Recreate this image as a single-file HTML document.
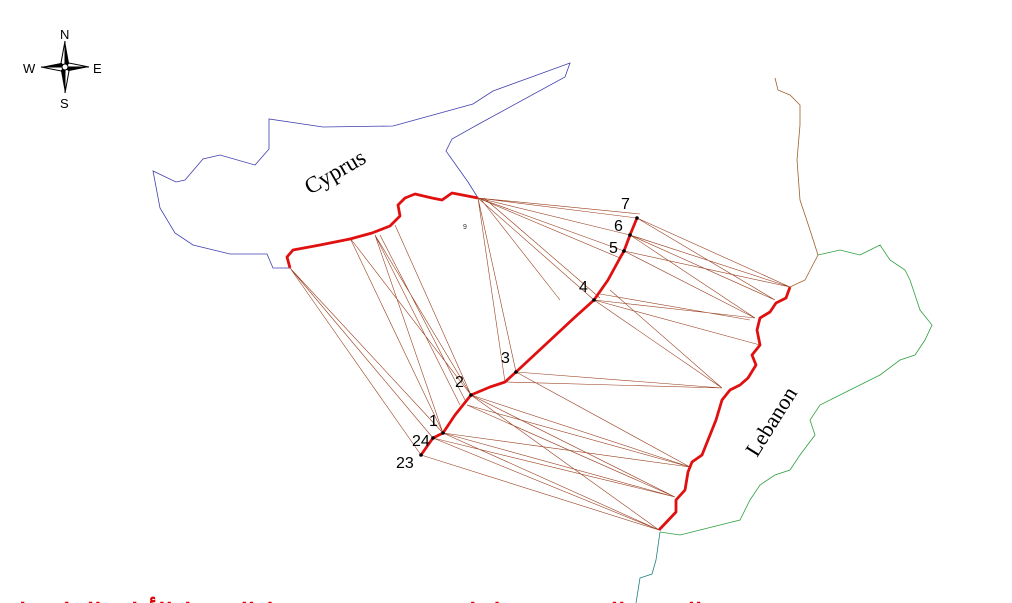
<!DOCTYPE html>
<html><head><meta charset="utf-8"><style>
html,body{margin:0;padding:0;background:#fff;width:1012px;height:603px;overflow:hidden}
svg{display:block}
</style></head><body>
<svg width="1012" height="603" viewBox="0 0 1012 603" xmlns="http://www.w3.org/2000/svg" font-family="Liberation Sans, sans-serif">
<!-- compass -->
<g transform="translate(65,67)">
<polygon points="0,-26 4,-4 0,0" fill="#000"/><polygon points="0,-26 -4,-4 0,0" fill="#fff" stroke="#000" stroke-width="1"/>
<polygon points="0,26 -4,4 0,0" fill="#000"/><polygon points="0,26 4,4 0,0" fill="#fff" stroke="#000" stroke-width="1"/>
<polygon points="24,0 4,4 0,0" fill="#000"/><polygon points="24,0 4,-4 0,0" fill="#fff" stroke="#000" stroke-width="1"/>
<polygon points="-24,0 -4,-4 0,0" fill="#000"/><polygon points="-24,0 -4,4 0,0" fill="#fff" stroke="#000" stroke-width="1"/>
<circle r="3" fill="#fff" stroke="#000"/>
</g>
<text x="60" y="39" font-size="13">N</text>
<text x="60" y="108" font-size="13">S</text>
<text x="23" y="73" font-size="13">W</text>
<text x="93" y="73" font-size="13">E</text>
<!-- Cyprus outline -->
<polyline fill="none" stroke="#4040b0" stroke-width="0.8" points="290,268 273,268 267,254 230,254 193,245 175,233 160,208 153,171 176,182 185,180 203,159 220,155 255,165 269,149 269,119 323,127 393,126 473,104 493,91 570,63 565,77 477,125 452,139 446,151 468,182 478,198"/>
<!-- Turkey/Syria brown -->
<polyline fill="none" stroke="#a0602a" stroke-width="0.8" points="775,78 778,90 790,95 800,105 800,125 797,160 800,200 810,230 818,255 805,280 790,287"/>
<!-- Green border -->
<polyline fill="none" stroke="#30a040" stroke-width="0.8" points="818,255 840,250 860,255 880,245 890,260 905,270 910,280 915,295 920,310 932,325 925,340 915,355 900,360 880,375 860,385 840,395 820,405 810,420 815,435 800,455 790,470 775,475 760,485 750,500 740,520 720,525 700,530 680,535 660,532"/>
<polyline fill="none" stroke="#208080" stroke-width="0.8" points="660,532 656,560 652,574 640,578 636,603"/>
<!-- fan lines -->
<g stroke="#9a4020" stroke-width="0.6" fill="none">
<path d="M478,198L637,218M478,198L630,235M478,198L624,251M478,198L594,300M478,198L516,372M478,198L505,382M478,198L620,258M478,198L640,214M484,198L600,298M480,198L560,300"/>
<path d="M290,268L443,433M290,268L433,438M290,268L421,455M350,238L443,433M350,238L471,395M375,235L471,395M375,235L443,433M375,235L460,405M395,225L471,395M380,235L465,400"/>
<path d="M790,287L637,218M790,287L630,235M790,287L624,251M775,300L630,235M775,300L637,218M755,318L630,235M755,318L624,251M755,318L594,300M750,320L600,294M760,345L594,300"/>
<path d="M722,388L594,300M722,388L516,372M722,388L505,382M722,388L610,290M690,467L516,372M690,467L471,395M690,467L467,405M690,467L443,433"/>
<path d="M675,497L471,395M675,497L443,433M675,497L433,438M675,497L467,405M659,530L443,433M659,530L433,438M659,530L421,455M659,530L471,395"/>
</g>
<!-- red boundaries -->
<g fill="none" stroke="#e01010" stroke-width="2.8" stroke-linejoin="round">
<polyline points="290,268 287,257 293,250 320,245 350,239 372,233 390,226 400,216 398,205 405,198 415,194 432,198 442,200 452,193 478,198"/>
<polyline points="790,287 786,298 776,303 770,312 760,318 757,330 760,345 752,355 756,365 748,378 740,385 730,390 722,400 716,420 708,440 702,455 692,462 688,472 685,490 676,500 676,512 659,530"/>
<polyline points="421,455 433,438 443,433 455,415 471,395 490,387 505,382 516,372 545,345 574,318 594,300 608,280 620,258 624,251 630,235 637,218"/>
</g>
<g fill="#000">
<circle cx="443" cy="433" r="1.8"/><circle cx="433" cy="438" r="1.8"/><circle cx="421" cy="455" r="1.8"/><circle cx="471" cy="395" r="1.8"/><circle cx="516" cy="372" r="1.8"/><circle cx="594" cy="300" r="1.8"/><circle cx="624" cy="251" r="1.8"/><circle cx="630" cy="235" r="1.8"/><circle cx="637" cy="218" r="1.8"/>
</g>
<g font-size="16" fill="#000">
<text x="621" y="209">7</text><text x="614" y="231">6</text><text x="609" y="253">5</text><text x="579" y="292">4</text><text x="501" y="363">3</text><text x="455" y="387">2</text><text x="429" y="426">1</text><text x="412" y="446">24</text><text x="396" y="468">23</text>
</g>
<text x="463" y="229" font-size="7" fill="#333">9</text>
<text x="0" y="0" font-family="Liberation Serif, serif" font-size="23" transform="translate(310,195) rotate(-30)">Cyprus</text>
<text x="0" y="0" font-family="Liberation Serif, serif" font-size="22" transform="translate(757,458) rotate(-58)">Lebanon</text>
<text x="15" y="622" font-family="Liberation Sans, 'Noto Sans CJK SC', sans-serif" font-size="26" font-weight="bold" fill="#e00000">الحدود البحرية بين لبنان وقبرص وفق خط الوسط الأولي الملاحظ</text>
</svg>
</body></html>
